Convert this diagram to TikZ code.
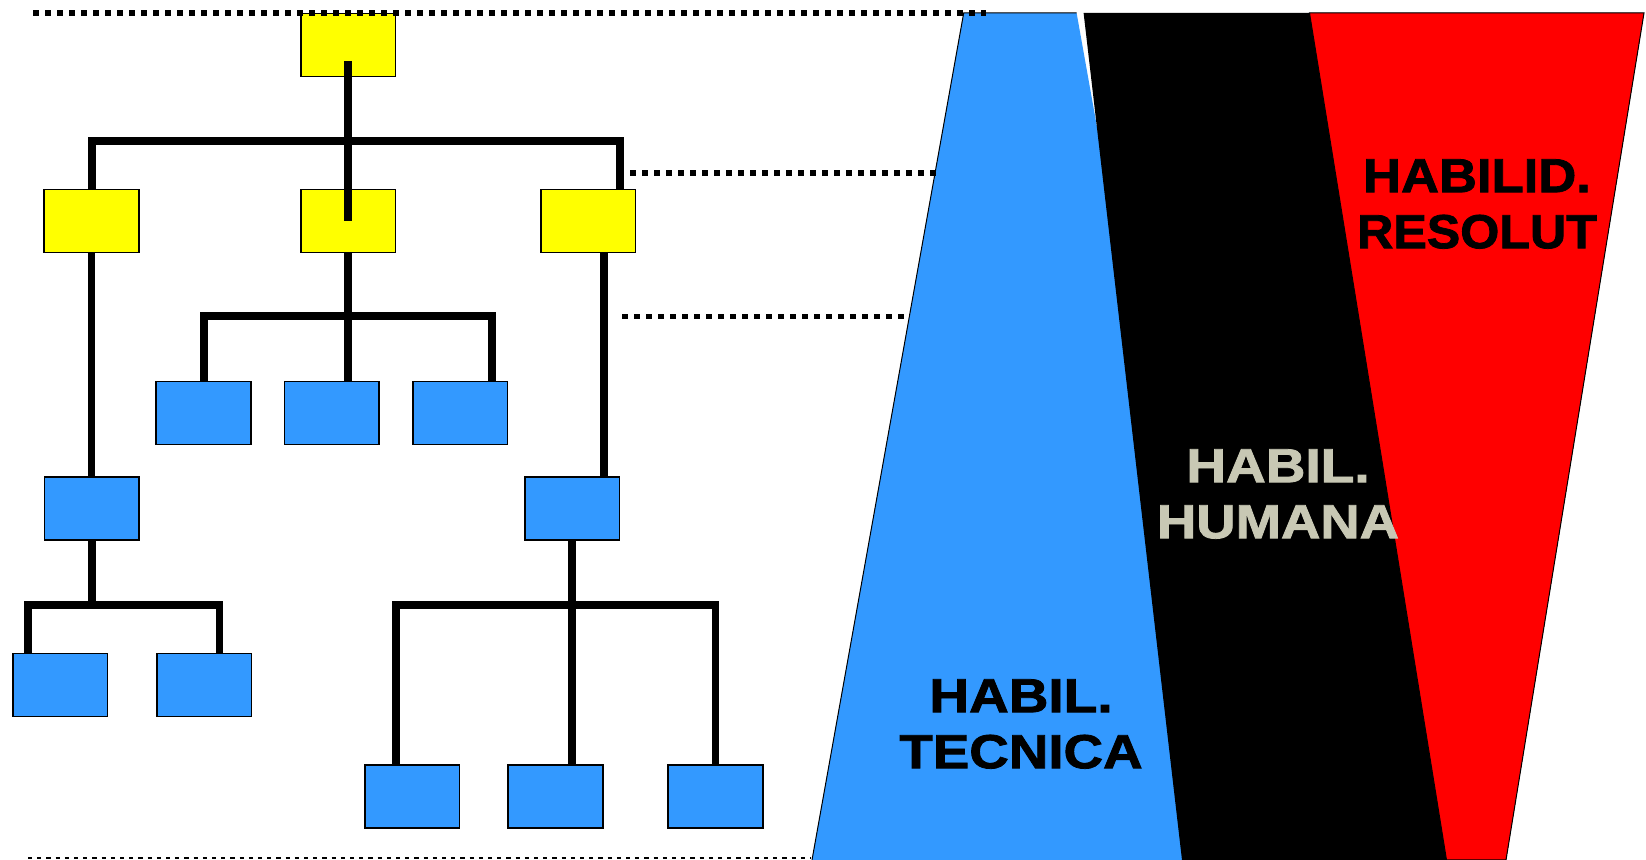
\documentclass[tikz,border=0pt]{standalone}
\usepackage{fontspec}
\setmainfont{Liberation Sans}
\newfontfamily\heavy[FakeBold=1.6]{Liberation Sans Bold}
\definecolor{yel}{RGB}{255,255,0}
\definecolor{skyb}{RGB}{51,153,255}
\definecolor{redf}{RGB}{255,0,0}
\definecolor{humtxt}{RGB}{200,200,180}
\pgfdeclarelayer{bg}
\pgfsetlayers{bg,main}
\tikzset{
  ybox/.style={draw=black, line width=0.8pt, fill=yel, minimum width=47.3pt, minimum height=31.4pt, inner sep=0pt},
  bbox/.style={ybox, fill=skyb},
  conn/.style={line width=3.8pt, line join=miter},
  bigdots/.style={line width=2.8pt, dash pattern=on 2.8pt off 3.2pt},
  smalldots/.style={line width=1.1pt, dash pattern=on 2.1pt off 2.5pt},
  lbl/.style={align=center, inner sep=0pt, font=\heavy\fontsize{23.9}{28}\selectfont},
  regionedge/.style={draw=black, line width=0.5pt, line join=miter}
}
\newcommand{\wide}[2][1.05]{\scalebox{#1}[1]{#2}}
\begin{document}
\begin{tikzpicture}[x=0.5pt, y=-0.5pt]
\useasboundingbox (0,0) rectangle (1646,860);
% boxes
\node[ybox] (n0) at (348,45) {};
\node[ybox] (n1) at (91.5,221) {};
\node[ybox] (n2) at (348,221) {};
\node[ybox] (n3) at (588,221) {};
\node[bbox] (m1) at (203.5,413) {};
\node[bbox] (m2) at (331.7,413) {};
\node[bbox] (m3) at (460,413) {};
\node[bbox] (p1) at (91.8,508.6) {};
\node[bbox] (p2) at (572,508.6) {};
\node[bbox] (q1) at (60,685) {};
\node[bbox] (q2) at (204,685) {};
\node[bbox] (r1) at (412,796.7) {};
\node[bbox] (r2) at (555.5,796.7) {};
\node[bbox] (r3) at (715.5,796.7) {};
% bar coordinates
\coordinate (b1L) at (92,141);
\coordinate (b1R) at (620,141);
\coordinate (b2L) at (204,316);
\coordinate (b2R) at (492,316);
\coordinate (v3) at (604,316);
\coordinate (b3L) at (28,605);
\coordinate (b3R) at (219.5,605);
\coordinate (b4L) at (396,605);
\coordinate (b4R) at (715.4,605);
\begin{pgfonlayer}{bg}
  % right shapes
  \fill[skyb] (963.7,13) -- (1076.6,13) -- (1228,860) -- (812,860) -- cycle;
  \fill[black] (1083.6,13) -- (1644,13) -- (1506,860) -- (1182,860) -- cycle;
  \filldraw[regionedge, fill=redf] (1309.5,13) -- (1644,13) -- (1506,860) -- (1446.5,860) -- cycle;
  \draw[regionedge] (812,860) -- (963.7,13) -- (1076.6,13);
  % connectors
  \draw[conn] (b1L |- n1.north) -- (b1L) -- (b1R) -- (b1R |- n3.north);
  \draw[conn] (n1.south) -- (n1.south |- p1.north);
  \draw[conn] (n2.south) -- (n2.south |- m2.north);
  \draw[conn] (b2L |- m1.north) -- (b2L) -- (b2R) -- (b2R |- m3.north);
  \draw[conn] (v3 |- n3.south) -- (v3 |- p2.north);
  \draw[conn] (p1.south) -- (p1.south |- b3L);
  \draw[conn] (b3L |- q1.north) -- (b3L) -- (b3R) -- (b3R |- q2.north);
  \draw[conn] (p2.south) -- (p2.south |- r2.north);
  \draw[conn] (b4L |- r1.north) -- (b4L) -- (b4R) -- (b4R |- r3.north);
\end{pgfonlayer}
\draw[conn] ([yshift=-8pt]n0.center) -- (n2.center);
% labels
\node[lbl, text=black] (lres) at (1477,204) {\wide[1.10]{HABILID.}\\\wide[1.05]{RESOLUT}};
\node[lbl, text=humtxt] (lhum) at (1278,494) {\wide[1.15]{HABIL.}\\\wide[1.14]{HUMANA}};
\node[lbl, text=black] (ltec) at (1021,724) {\wide[1.15]{HABIL.}\\\wide[1.145]{TECNICA}};
% dotted guide lines
\coordinate (d1a) at (33,13);   \coordinate (d1b) at (986,13);
\coordinate (d2a) at (630,173); \coordinate (d2b) at (939,173);
\coordinate (d3a) at (622,316.5); \coordinate (d3b) at (908,316.5);
\coordinate (d4a) at (28,858);  \coordinate (d4b) at (811,858);
\draw[bigdots] (d1a) -- (d1b);
\draw[bigdots] (d2a) -- (d2b);
\draw[bigdots] (d3a) -- (d3b);
\draw[smalldots] (d4a) -- (d4b);
\end{tikzpicture}
\end{document}
